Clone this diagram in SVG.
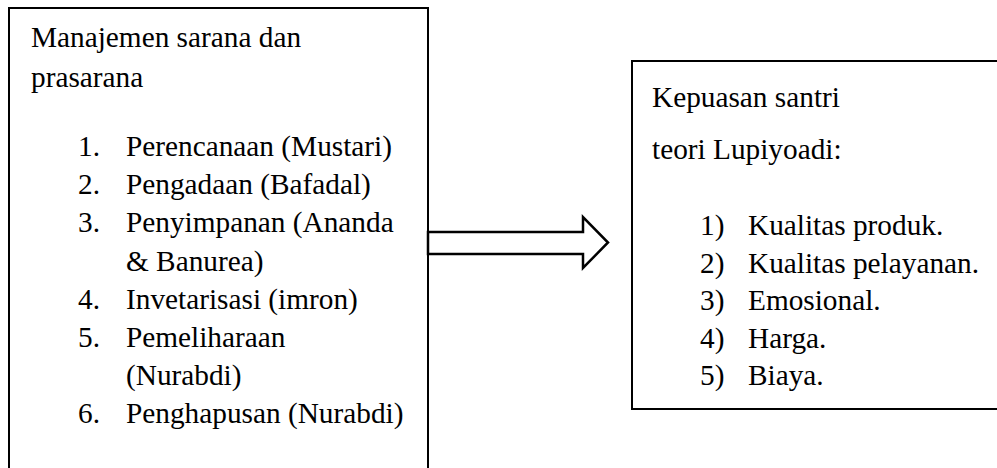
<svg xmlns="http://www.w3.org/2000/svg" width="997" height="468" viewBox="0 0 997 468">
  <style>
    .box { fill: #ffffff; stroke: #000000; stroke-width: 2; }
    .arrow { fill: #ffffff; stroke: #000000; stroke-width: 2.5; stroke-linejoin: miter; }
    .t { font-family: 'Liberation Serif', 'Times New Roman', serif; font-size: 29.3px; fill: #000000; }
  </style>
  <rect width="997" height="468" fill="#ffffff"/>

  <!-- left box: facility management -->
  <g id="node-manajemen" class="t">
    <rect class="box" x="9" y="8" width="419" height="480"/>
    <text x="31" y="47">Manajemen sarana dan</text>
    <text x="31" y="87">prasarana</text>
    <text x="78" y="156">1.</text><text x="126" y="156">Perencanaan (Mustari)</text>
    <text x="78" y="194.2">2.</text><text x="126" y="194.2">Pengadaan (Bafadal)</text>
    <text x="78" y="232.4">3.</text><text x="126" y="232.4">Penyimpanan (Ananda</text>
    <text x="126" y="270.6">&amp; Banurea)</text>
    <text x="78" y="308.8">4.</text><text x="126" y="308.8">Invetarisasi (imron)</text>
    <text x="78" y="347">5.</text><text x="126" y="347">Pemeliharaan</text>
    <text x="126" y="385.2">(Nurabdi)</text>
    <text x="78" y="423.4">6.</text><text x="126" y="423.4">Penghapusan (Nurabdi)</text>
  </g>

  <!-- right box: santri satisfaction -->
  <g id="node-kepuasan" class="t">
    <rect class="box" x="632" y="61" width="380" height="348"/>
    <text x="652" y="107">Kepuasan santri</text>
    <text x="652" y="159">teori Lupiyoadi:</text>
    <text x="700" y="235">1)</text><text x="748" y="235">Kualitas produk.</text>
    <text x="700" y="272.5">2)</text><text x="748" y="272.5">Kualitas pelayanan.</text>
    <text x="700" y="310">3)</text><text x="748" y="310">Emosional.</text>
    <text x="700" y="347.5">4)</text><text x="748" y="347.5">Harga.</text>
    <text x="700" y="385">5)</text><text x="748" y="385">Biaya.</text>
  </g>

  <!-- block arrow between the boxes -->
  <g id="connectors">
    <polygon class="arrow" points="428,232 583,232 583,217 608,242.5 583,268 583,254 428,254"/>
  </g>
</svg>
